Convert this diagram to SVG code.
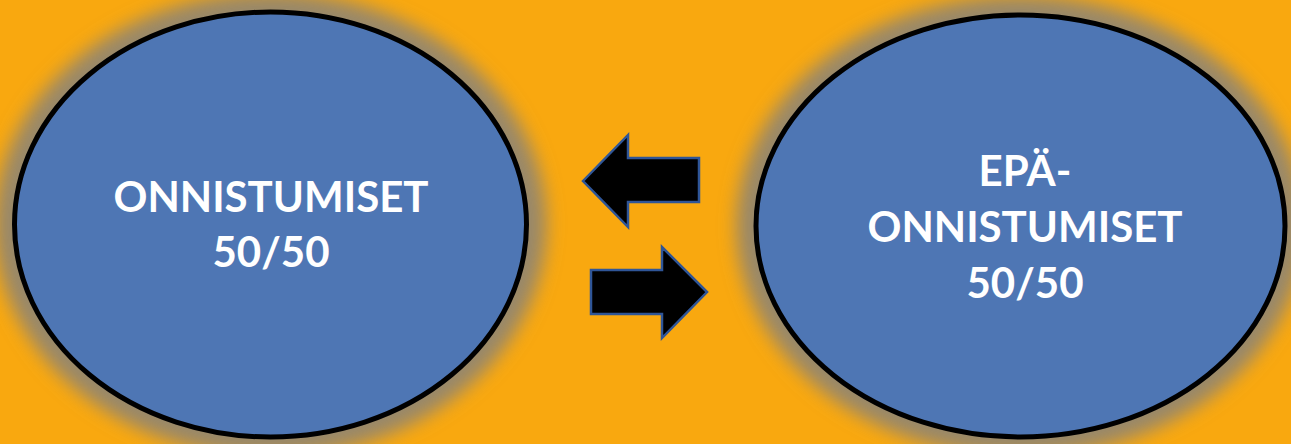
<svg xmlns="http://www.w3.org/2000/svg" width="1291" height="444" viewBox="0 0 1291 444">
<defs>
<filter id="glow" x="-20%" y="-20%" width="140%" height="140%">
<feGaussianBlur stdDeviation="9"/>
</filter>
<style>
.halo{fill:#808080;fill-opacity:0.8;filter:url(#glow)}
.node{fill:#4E76B4;stroke:#000;stroke-width:5}
.lbl{font-family:Lato,"Open Sans","Liberation Sans",sans-serif;font-weight:bold;font-size:42px;fill:#fff;text-anchor:middle}
.arrow{fill:#000;stroke:#2F5597;stroke-width:2.5;stroke-linejoin:miter}
</style>
</defs>
<rect width="1291" height="444" fill="#F9A80F"/>
<g id="node-onnistumiset">
<ellipse class="halo" cx="270.5" cy="224.5" rx="276" ry="232"/>
<ellipse class="node" cx="270.5" cy="224.5" rx="256" ry="212.5"/>
<text class="lbl" x="271" y="212">ONNISTUMISET</text>
<text class="lbl" x="271" y="267">50/50</text>
</g>
<g id="node-epaonnistumiset">
<ellipse class="halo" cx="1020.5" cy="226" rx="284" ry="230"/>
<ellipse class="node" cx="1020.5" cy="226" rx="264.5" ry="211"/>
<text class="lbl" x="1025" y="186">EPÄ-</text>
<text class="lbl" x="1025" y="242">ONNISTUMISET</text>
<text class="lbl" x="1025" y="298">50/50</text>
</g>
<g id="connectors">
<polygon class="arrow" points="583,181 628,135 628,158 699,158 699,202 628,202 628,227"/>
<polygon class="arrow" points="707,292 662,247 662,270 591,270 591,314 662,314 662,338"/>
</g>
</svg>
